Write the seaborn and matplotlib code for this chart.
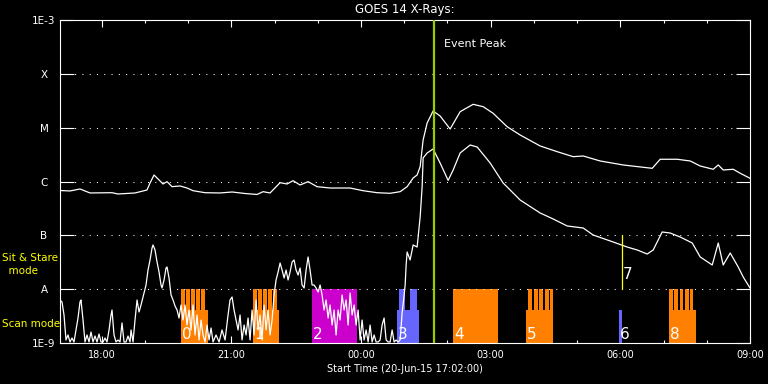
import numpy as np
import matplotlib
matplotlib.use('Agg')
import matplotlib.pyplot as plt
import seaborn as sns

# ── DATA ────────────────────────────────────────────────────────────────────
# time in hours after 00:00 on 20-Jun-15 (24+ = next day), flux as log10(W/m^2)
t_long = [17.033, 17.265, 17.496, 17.728, 18.237, 18.376, 18.769, 19.046, 19.117, 19.209,
          19.302, 19.417, 19.510, 19.626, 19.811, 19.973, 20.112, 20.390, 20.737, 21.015,
          21.316, 21.593, 21.732, 21.894, 22.126, 22.288, 22.427, 22.589, 22.774, 22.982,
          23.283, 23.746, 24.047, 24.371, 24.672, 24.904, 25.066, 25.205, 25.297, 25.367,
          25.436, 25.529, 25.667, 25.829, 26.061, 26.293, 26.594, 26.825, 27.056, 27.380,
          27.681, 28.144, 28.538, 28.908, 29.140, 29.534, 30.066, 30.737, 30.922, 31.316,
          31.617, 31.848, 32.149, 32.265, 32.380, 32.612, 32.774, 33.000]
logf_long = [-6.167, -6.176, -6.139, -6.213, -6.208, -6.232, -6.213, -6.158, -6.028, -5.879,
             -5.953, -6.046, -6.003, -6.096, -6.083, -6.121, -6.171, -6.208, -6.213, -6.195,
             -6.223, -6.241, -6.189, -6.213, -6.022, -6.046, -5.985, -6.065, -6.003, -6.096,
             -6.121, -6.121, -6.171, -6.208, -6.219, -6.189, -6.096, -5.935, -5.879, -5.725,
             -5.229, -4.913, -4.690, -4.783, -5.025, -4.703, -4.566, -4.610, -4.733, -4.982,
             -5.136, -5.340, -5.446, -5.539, -5.526, -5.619, -5.693, -5.755, -5.587, -5.587,
             -5.619, -5.712, -5.773, -5.693, -5.786, -5.773, -5.847, -5.940]

t_short = [17.033, 17.080, 17.126, 17.172, 17.219, 17.265, 17.311, 17.357, 17.404, 17.450,
           17.496, 17.519, 17.566, 17.612, 17.658, 17.705, 17.751, 17.797, 17.843, 17.890,
           17.936, 17.982, 18.029, 18.075, 18.121, 18.168, 18.214, 18.237, 18.283, 18.330,
           18.376, 18.422, 18.468, 18.515, 18.561, 18.607, 18.654, 18.677, 18.723, 18.769,
           18.816, 18.862, 18.908, 18.955, 19.024, 19.070, 19.117, 19.163, 19.186, 19.232,
           19.279, 19.325, 19.371, 19.394, 19.441, 19.487, 19.510, 19.556, 19.603, 19.649,
           19.695, 19.742, 19.788, 19.834, 19.880, 19.927, 19.973, 20.019, 20.066, 20.112,
           20.158, 20.205, 20.251, 20.297, 20.343, 20.390, 20.436, 20.482, 20.529, 20.575,
           20.644, 20.714, 20.783, 20.853, 20.922, 20.968, 21.015, 21.061, 21.107, 21.154,
           21.200, 21.246, 21.293, 21.339, 21.385, 21.431, 21.478, 21.524, 21.570, 21.617,
           21.663, 21.709, 21.756, 21.802, 21.848, 21.894, 21.941, 21.987, 22.033, 22.080,
           22.126, 22.172, 22.219, 22.265, 22.311, 22.357, 22.404, 22.450, 22.496, 22.543,
           22.589, 22.635, 22.682, 22.728, 22.774, 22.820, 22.867, 22.913, 22.959, 23.006,
           23.052, 23.098, 23.144, 23.191, 23.237, 23.283, 23.330, 23.376, 23.422, 23.469,
           23.515, 23.561, 23.607, 23.654, 23.700, 23.746, 23.793, 23.839, 23.885, 23.932,
           23.978, 24.024, 24.070, 24.117, 24.163, 24.209, 24.256, 24.302, 24.348, 24.395,
           24.441, 24.487, 24.533, 24.580, 24.626, 24.672, 24.719, 24.765, 24.811, 24.858,
           24.904, 24.950, 24.997, 25.020, 25.043, 25.066, 25.135, 25.205, 25.297, 25.367,
           25.413, 25.436, 25.529, 25.667, 25.829, 26.015, 26.131, 26.293, 26.524, 26.686,
           26.987, 27.288, 27.681, 28.144, 28.445, 28.769, 29.140, 29.371, 29.834, 30.157,
           30.390, 30.621, 30.760, 30.968, 31.154, 31.385, 31.663, 31.848, 32.126, 32.265,
           32.380, 32.542, 32.727, 32.843, 33.000]
logf_short = [-8.201, -8.238, -8.480, -8.944, -8.851, -8.981, -8.907, -8.981, -8.758, -8.536,
              -8.238, -8.201, -8.573, -8.981, -8.851, -8.981, -8.796, -8.981, -8.870, -8.981,
              -8.833, -8.981, -8.981, -8.907, -8.981, -8.758, -8.480, -8.387, -8.851, -8.981,
              -8.944, -8.981, -8.628, -8.981, -8.981, -8.870, -8.981, -8.758, -8.981, -8.573,
              -8.201, -8.424, -8.294, -8.145, -7.923, -7.644, -7.458, -7.235, -7.179, -7.272,
              -7.495, -7.681, -7.923, -7.978, -7.830, -7.607, -7.588, -7.792, -8.108, -8.201,
              -8.313, -8.387, -8.536, -8.294, -8.573, -8.294, -8.666, -8.387, -8.758, -8.294,
              -8.851, -8.480, -8.944, -8.573, -8.851, -8.981, -8.666, -8.944, -8.721, -8.981,
              -8.851, -8.981, -8.758, -8.944, -8.480, -8.201, -8.145, -8.387, -8.573, -8.758,
              -8.480, -8.944, -8.666, -8.851, -8.536, -8.944, -8.387, -8.851, -8.201, -8.758,
              -8.480, -8.944, -8.294, -8.758, -8.387, -8.851, -8.573, -8.108, -7.830, -7.681,
              -7.514, -7.644, -7.792, -7.644, -7.830, -7.681, -7.495, -7.458, -7.644, -7.737,
              -7.607, -7.923, -7.978, -7.644, -7.402, -7.644, -7.923, -7.923, -7.978, -8.053,
              -7.923, -8.108, -8.387, -8.201, -8.536, -8.294, -8.666, -8.387, -8.851, -8.387,
              -8.573, -8.108, -8.387, -8.201, -8.666, -8.071, -8.480, -8.294, -8.666, -8.387,
              -8.944, -8.573, -8.944, -8.758, -8.981, -8.666, -8.981, -8.851, -8.981, -8.981,
              -8.944, -8.666, -8.536, -8.944, -8.981, -8.981, -8.758, -8.981, -8.944, -8.981,
              -8.944, -8.443, -8.108, -7.923, -7.551, -7.310, -7.458, -7.179, -7.217, -6.659,
              -6.102, -5.563, -5.470, -5.396, -5.656, -5.980, -5.786, -5.470, -5.322, -5.359,
              -5.656, -6.028, -6.344, -6.585, -6.696, -6.826, -6.864, -6.994, -7.124, -7.217,
              -7.272, -7.347, -7.272, -6.938, -6.957, -7.031, -7.142, -7.402, -7.551, -7.142,
              -7.551, -7.328, -7.588, -7.774, -7.978]

# flux class levels
level_vals = [1e-9, 1e-8, 1e-7, 1e-6, 1e-5, 1e-4, 1e-3]
level_labels = ['1E-9', 'A', 'B', 'C', 'M', 'X', '1E-3']

# time axis
major_hours = [18, 21, 24, 27, 30, 33]
major_labels = ['18:00', '21:00', '00:00', '03:00', '06:00', '09:00']
minor_hours = [19, 20, 22, 23, 25, 26, 28, 29, 31, 32]
t_start, t_end = 17.0333, 33.0

# observation blocks (scan mode)
ORANGE, BLUE, MAGENTA = '#ff8000', '#6666ff', '#cc00cc'
half_start = [19.834, 21.501, 24.834, 27.820, 29.973, 31.121]
half_end = [20.452, 22.103, 25.344, 28.438, 30.036, 31.739]
half_color = [ORANGE, ORANGE, BLUE, ORANGE, BLUE, ORANGE]
full_start = [19.834, 19.950, 20.066, 20.181, 20.297,
              21.501, 21.617, 21.732, 21.848, 21.964,
              22.867,
              24.880, 25.135,
              26.131,
              27.866, 27.998, 28.121, 28.253, 28.376,
              31.121, 31.244, 31.369, 31.491, 31.614]
full_end = [19.920, 20.036, 20.152, 20.267, 20.383,
            21.587, 21.703, 21.818, 21.934, 22.050,
            23.901,
            25.019, 25.297,
            27.165,
            27.956, 28.088, 28.211, 28.343, 28.438,
            31.213, 31.336, 31.461, 31.583, 31.675]
full_color = [ORANGE] * 10 + [MAGENTA] + [BLUE] * 2 + [ORANGE] * 11
block_labels = ['0', '1', '2', '3', '4', '5', '6', '8']
block_label_t = [19.85, 21.52, 22.88, 24.85, 26.15, 27.84, 29.98, 31.14]

# sit & stare marker and event peak
ss_time, ss_label = 30.043, '7'
peak_time = 25.684

# ── PLOT ────────────────────────────────────────────────────────────────────
sns.set_style('dark', {'axes.facecolor': 'black', 'figure.facecolor': 'black',
                       'axes.edgecolor': 'white', 'text.color': 'white',
                       'xtick.color': 'white', 'ytick.color': 'white'})
plt.rcParams['font.family'] = ['DejaVu Sans']

fig = plt.figure(figsize=(7.68, 3.84), dpi=100, facecolor='black')
ax = fig.add_axes([60 / 768, 41 / 384, 690 / 768, 323 / 384])
ax.set_facecolor('black')
ax.set_yscale('log')

# blocks
fs, fe = np.array(full_start), np.array(full_end)
ax.bar(fs, 1e-8 - 1e-9, width=fe - fs, bottom=1e-9, align='edge',
       color=full_color, linewidth=0, antialiased=False, zorder=1)
hs, he = np.array(half_start), np.array(half_end)
ax.bar(hs, 10 ** -8.39 - 1e-9, width=he - hs, bottom=1e-9, align='edge',
       color=half_color, linewidth=0, antialiased=False, zorder=1)

# dotted class levels
for lv in level_vals[1:-1]:
    ax.axhline(lv, color='white', lw=0.75, linestyle=(0, (1, 6)), zorder=2)

# flux curves
sns.lineplot(x=t_long, y=10 ** np.array(logf_long), ax=ax, color='white',
             lw=0.9, sort=False, estimator=None, zorder=3)
sns.lineplot(x=t_short, y=10 ** np.array(logf_short), ax=ax, color='white',
             lw=0.9, sort=False, estimator=None, zorder=3)

ax.axvline(peak_time, color='#9acd00', lw=1.6, zorder=4)
ax.text(peak_time + 0.24, 10 ** -3.5, 'Event Peak', color='white', fontsize=8,
        va='baseline', ha='left')

ax.plot([ss_time, ss_time], [1e-8, 1e-7], color='yellow', lw=0.9, zorder=4)
ax.text(ss_time + 0.02, 10 ** -7.81, ss_label, color='white', fontsize=11,
        va='baseline', ha='left', zorder=5)

for lab, tl in zip(block_labels, block_label_t):
    ax.text(tl, 10 ** -8.93, lab, color='white', fontsize=11,
            va='baseline', ha='left', zorder=5)

ax.set_xlim(t_start, t_end)
ax.set_ylim(1e-9, 1e-3)

ax.set_xticks(major_hours)
ax.set_xticklabels(major_labels)
ax.set_xticks(minor_hours, minor=True)
ax.tick_params(axis='x', which='major', direction='in', length=4.7, width=0.8,
               top=True, bottom=True, labelsize=7, pad=5)
ax.tick_params(axis='x', which='minor', direction='in', length=2.4, width=0.8,
               top=True, bottom=True)

ax.set_yticks(level_vals)
ax.set_yticklabels(level_labels)
ax.yaxis.set_minor_locator(matplotlib.ticker.NullLocator())
ax.tick_params(axis='y', which='major', direction='in', length=10, width=0.8,
               left=True, right=True, labelsize=7.5, pad=11.5)
for lbl in ax.get_yticklabels():
    lbl.set_horizontalalignment('center')

for sp in ax.spines.values():
    sp.set_color('white')
    sp.set_linewidth(0.8)
ax.grid(False)

ax.set_title('GOES 14 X-Rays:', color='white', fontsize=8.5, pad=5)
ax.set_xlabel('Start Time (20-Jun-15 17:02:00)', color='white', fontsize=7, labelpad=3)

fig.text(2 / 768, 1 - 258 / 384, 'Sit & Stare', color='yellow', fontsize=7.5, va='center')
fig.text(2 / 768, 1 - 271 / 384, '  mode', color='yellow', fontsize=7.5, va='center')
fig.text(2 / 768, 1 - 324 / 384, 'Scan mode', color='yellow', fontsize=7.5, va='center')

fig.savefig('out.png', dpi=100, facecolor='black')
plt.close(fig)
